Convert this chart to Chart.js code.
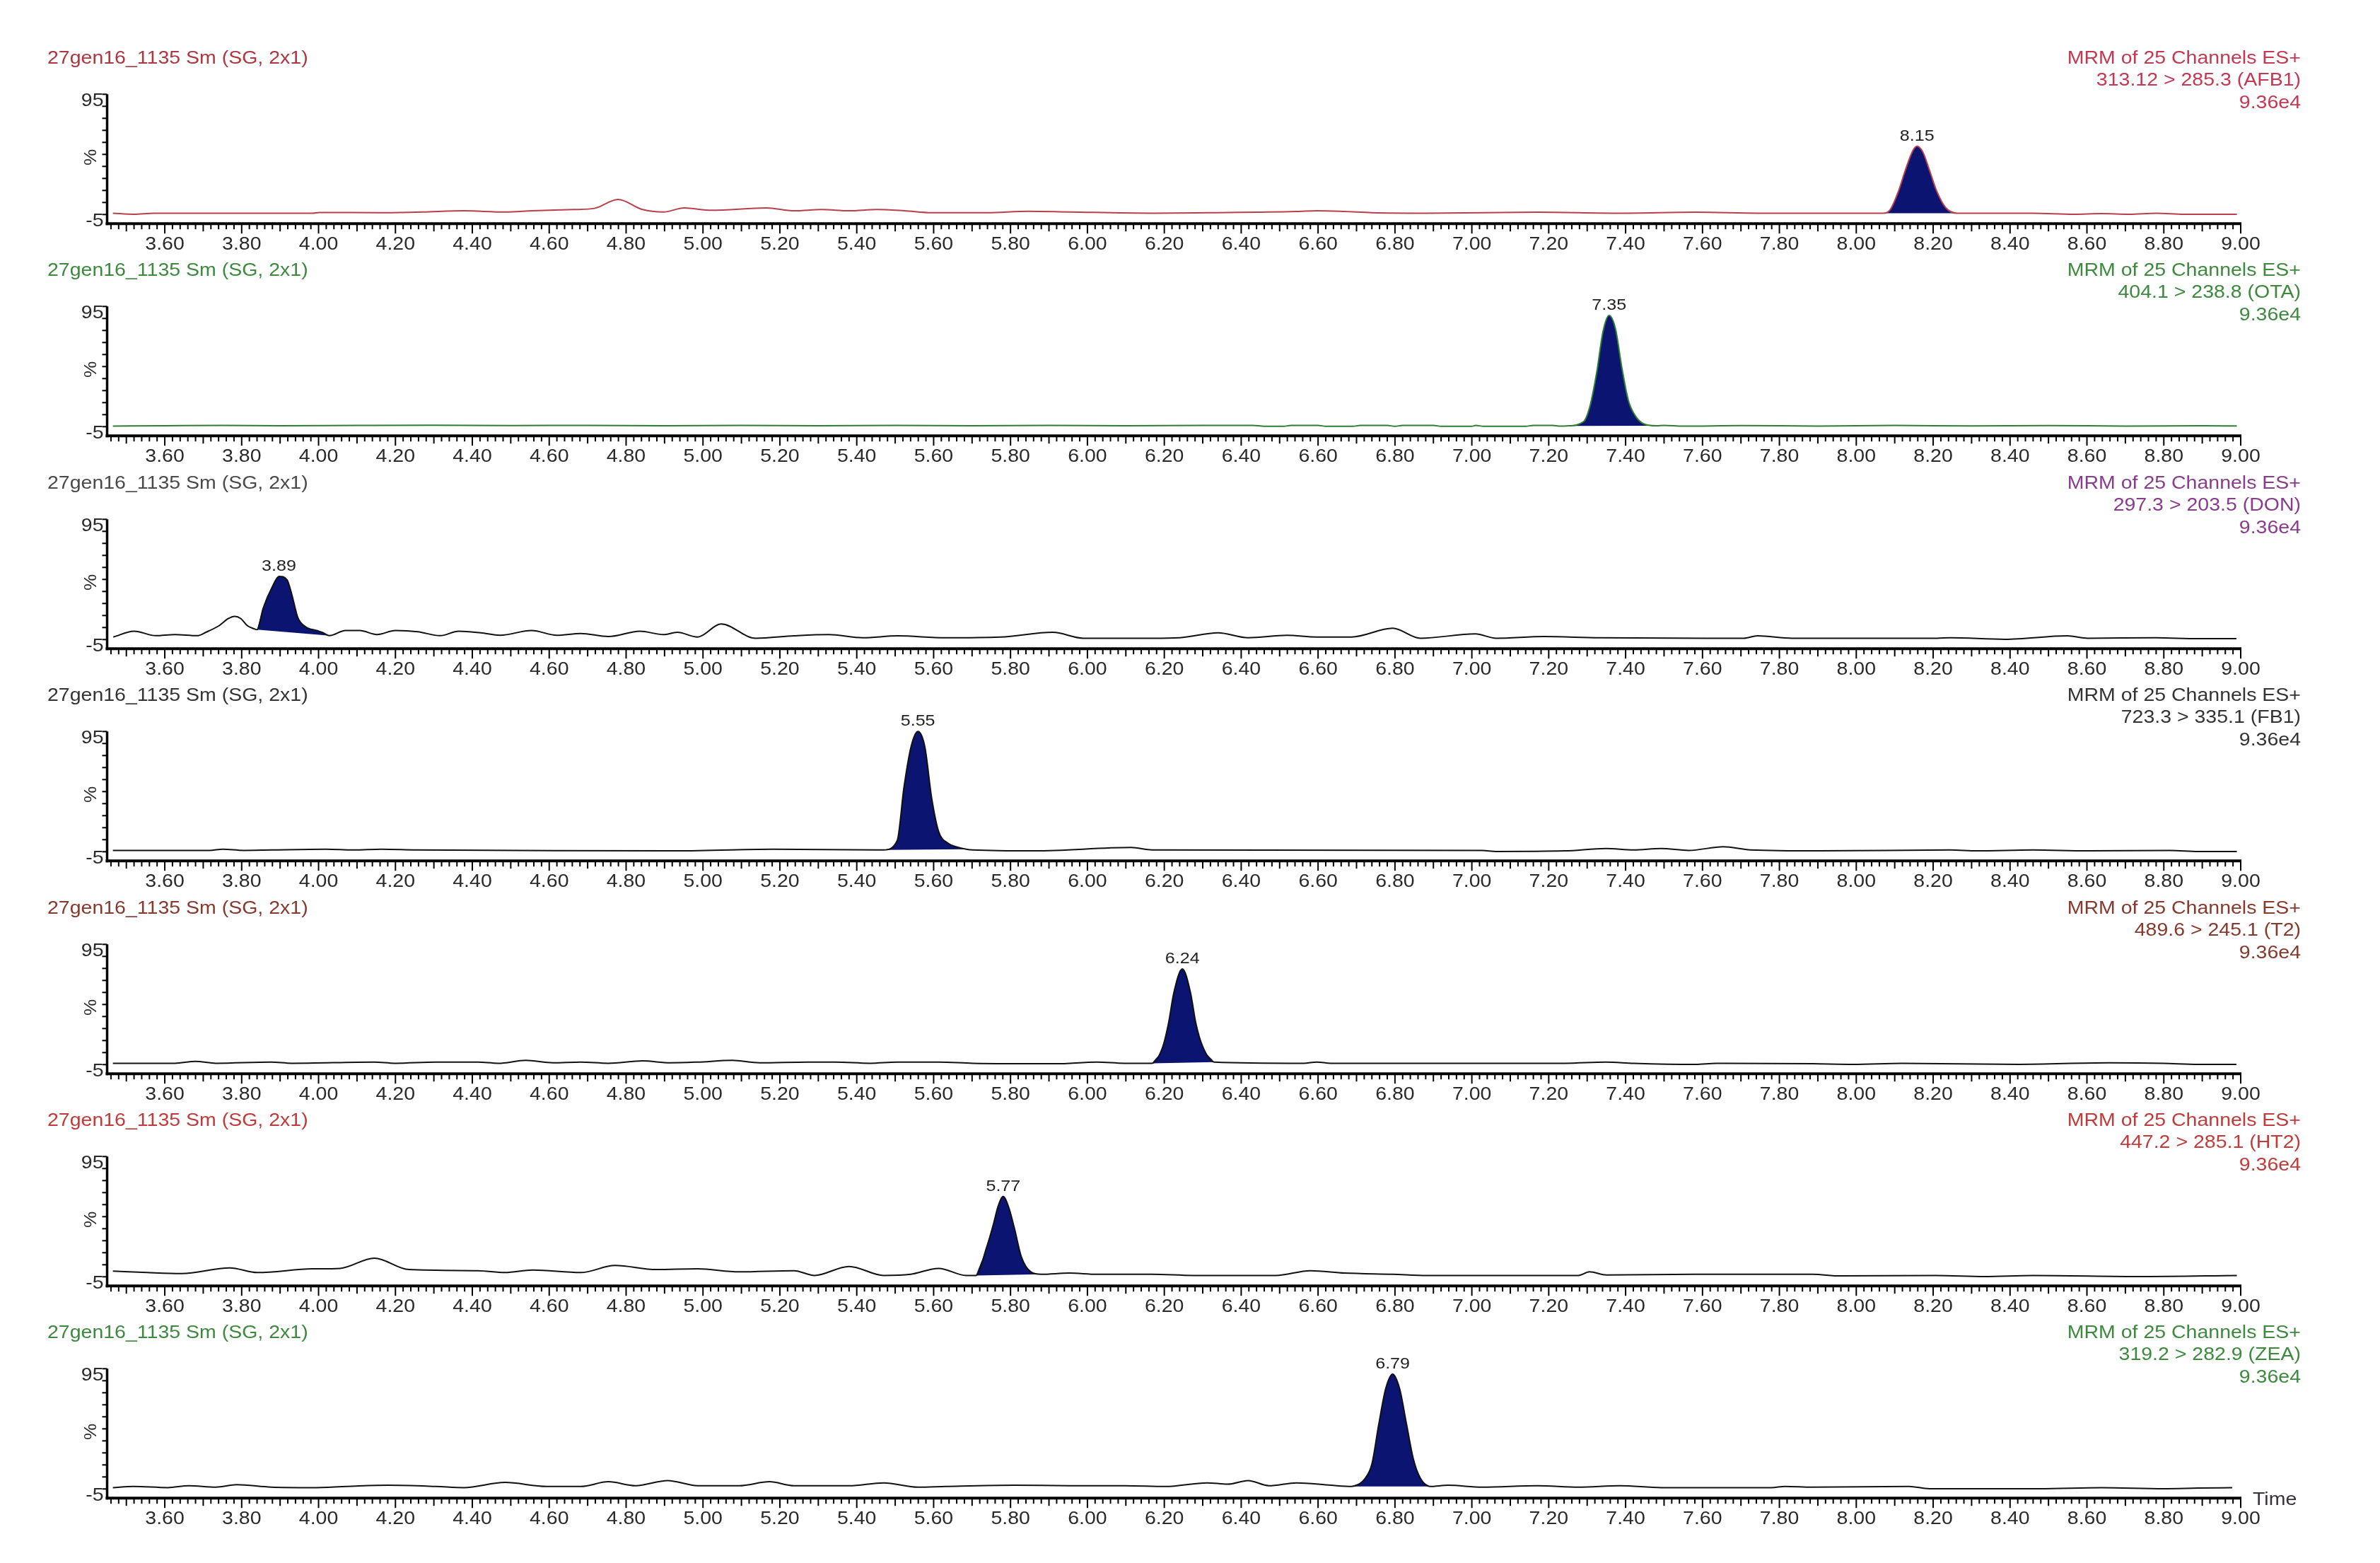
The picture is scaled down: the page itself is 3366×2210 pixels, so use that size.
<!DOCTYPE html>
<html>
<head>
<meta charset="utf-8">
<script src="https://cdn.jsdelivr.net/npm/chart.js@4.4.1/dist/chart.umd.min.js"></script>
<style>
  body { margin: 0; background: #fff; }
  #wrap { position: relative; width: 3366px; height: 2210px; }
  #wrap canvas { position: absolute; left: 0; }
</style>
</head>
<body>
<div id="wrap"></div>
<script>
// chromatogram traces, [time (min), intensity (%)]
const afb1 = [[3.465,-3.9],[3.519,-4.8],[3.572,-3.9],[3.75,-4.0],[3.984,-3.9],[4.002,-3.3],[4.163,-3.5],[4.27,-2.9],[4.378,-1.9],[4.485,-2.9],[4.557,-1.9],[4.664,-0.9],[4.718,0.1],[4.779,7.5],[4.843,-0.9],[4.897,-2.9],[4.951,0.5],[5.022,-1.5],[5.165,0.5],[5.237,-1.9],[5.309,-0.9],[5.38,-1.9],[5.452,-0.9],[5.524,-1.9],[5.595,-3.5],[5.738,-3.5],[5.846,-2.3],[5.953,-2.9],[6.168,-3.9],[6.311,-3.5],[6.544,-2.5],[6.597,-1.9],[6.669,-2.5],[6.74,-3.5],[6.884,-3.9],[7.17,-3.1],[7.385,-3.9],[7.582,-3.1],[7.743,-3.9],[7.95,-4.0],[8.07,-4.0],[8.088,-1.1],[8.11,14.6],[8.128,32.2],[8.147,48],[8.158,51.8],[8.173,47],[8.19,32.2],[8.209,14.6],[8.232,0.9],[8.263,-4.0],[8.459,-3.9],[8.566,-4.8],[8.638,-4.3],[8.71,-4.8],[8.781,-3.9],[8.853,-4.8],[8.99,-4.8]];
const ota = [[3.465,-4.5],[3.60,-4.2],[3.75,-3.9],[3.90,-4.3],[4.10,-4.0],[4.30,-3.8],[4.50,-4.1],[4.70,-3.9],[4.90,-4.2],[5.10,-4.0],[5.30,-4.3],[5.50,-4.0],[5.70,-4.3],[5.90,-4.0],[6.10,-4.2],[6.30,-3.9],[6.43,-3.9],[6.46,-4.7],[6.51,-4.7],[6.53,-3.9],[6.60,-3.9],[6.62,-4.7],[6.69,-4.7],[6.71,-3.9],[6.78,-3.9],[6.80,-4.7],[6.82,-3.9],[6.90,-3.9],[6.92,-4.7],[7.00,-4.7],[7.01,-3.9],[7.03,-4.7],[7.14,-4.7],[7.16,-3.9],[7.21,-3.9],[7.23,-4.6],[7.246,-4.4],[7.291,-0.7],[7.308,13],[7.325,40.5],[7.341,73.8],[7.357,87.5],[7.374,75.8],[7.39,44.4],[7.407,17],[7.427,3.2],[7.447,-2.6],[7.48,-4.2],[7.50,-3.9],[7.55,-4.6],[7.70,-4.1],[7.90,-4.5],[8.10,-4.0],[8.30,-4.4],[8.50,-4.1],[8.70,-4.5],[8.90,-4.2],[8.99,-4.4]];
const don = [[3.466,-2.9],[3.52,2.0],[3.577,-1.8],[3.626,-0.8],[3.684,-1.8],[3.708,1.2],[3.741,6.5],[3.765,12.4],[3.782,14.3],[3.798,12.4],[3.815,6.5],[3.832,4.0],[3.84,3.2],[3.856,21.2],[3.881,39.8],[3.897,47.6],[3.918,44.7],[3.93,33],[3.946,13.4],[3.967,5.5],[3.995,2.5],[4.012,0.6],[4.028,-1.8],[4.07,2.5],[4.107,2.5],[4.152,-0.8],[4.20,2.5],[4.258,1.5],[4.316,-1.8],[4.365,2.0],[4.422,0.6],[4.472,-1.4],[4.554,2.5],[4.62,-1.4],[4.682,0.1],[4.754,-2.5],[4.836,2.0],[4.897,-0.9],[4.933,1.0],[4.986,-2.9],[5.047,7.9],[5.137,-3.9],[5.237,-1.9],[5.327,-0.9],[5.416,-3.5],[5.506,-1.9],[5.63,-3.5],[5.774,-2.9],[5.91,1.0],[5.989,-3.9],[6.168,-3.9],[6.24,-3.5],[6.34,0.6],[6.418,-3.5],[6.519,-1.5],[6.597,-2.9],[6.687,-2.9],[6.794,4.4],[6.866,-3.9],[7.009,-0.3],[7.063,-3.9],[7.188,-2.5],[7.331,-3.5],[7.707,-3.9],[7.743,-1.9],[7.833,-3.9],[8.21,-3.9],[8.244,-3.5],[8.387,-4.8],[8.549,-1.9],[8.602,-3.9],[8.78,-3.5],[8.889,-4.3],[8.989,-4.3]];
const fb1 = [[3.465,-3.9],[3.716,-3.9],[3.751,-2.9],[3.805,-3.9],[3.877,-3.5],[4.02,-2.9],[4.091,-3.5],[4.163,-2.9],[4.253,-3.5],[4.521,-3.9],[4.915,-4.3],[5.183,-2.9],[5.452,-3.5],[5.47,-3.5],[5.505,4],[5.523,49],[5.541,82],[5.559,95],[5.577,82.4],[5.595,39.3],[5.613,11.8],[5.638,2],[5.66,-1],[5.685,-2.9],[5.702,-3.5],[5.864,-4.3],[6.114,-1.5],[6.168,-3.5],[7.027,-3.9],[7.063,-4.8],[7.242,-4.3],[7.349,-2.3],[7.421,-3.5],[7.492,-2.3],[7.564,-3.9],[7.654,-0.9],[7.725,-3.5],[7.904,-4.3],[8.244,-3.5],[8.316,-4.3],[8.459,-3.5],[8.602,-4.3],[8.817,-3.9],[8.889,-4.8],[8.99,-4.8]];
const t2 = [[3.465,-3.9],[3.626,-3.9],[3.68,-2.3],[3.733,-3.9],[3.877,-2.9],[3.93,-3.9],[4.145,-2.9],[4.199,-3.9],[4.306,-2.9],[4.414,-2.9],[4.467,-3.9],[4.539,-1.5],[4.61,-3.5],[4.682,-2.9],[4.754,-3.9],[4.843,-1.9],[4.915,-3.5],[4.986,-2.9],[5.076,-1.5],[5.147,-3.5],[5.273,-2.9],[5.344,-2.9],[5.434,-3.9],[5.506,-2.9],[5.613,-2.9],[5.702,-3.9],[5.917,-4.3],[6.025,-2.9],[6.096,-3.9],[6.168,-3.9],[6.196,9.9],[6.211,29.5],[6.225,55],[6.247,74.6],[6.268,55],[6.282,29.5],[6.30,9.9],[6.33,-2.9],[6.562,-3.9],[6.597,-2.9],[6.633,-3.9],[7.242,-3.9],[7.349,-2.9],[7.421,-3.9],[7.582,-4.8],[7.636,-3.9],[7.886,-4.3],[7.993,-4.8],[8.119,-3.9],[8.423,-4.8],[8.656,-3.5],[8.799,-3.9],[8.889,-4.8],[8.989,-4.8]];
const ht2 = [[3.465,-0.3],[3.554,-1.5],[3.644,-2.3],[3.769,2.4],[3.841,-1.5],[3.984,1.6],[4.056,2.0],[4.145,10.5],[4.235,1.0],[4.414,0.1],[4.485,-1.5],[4.557,0.6],[4.682,-1.5],[4.771,4.4],[4.879,1.0],[4.986,1.6],[5.094,-0.9],[5.237,0.1],[5.29,-3.9],[5.38,3.6],[5.47,-3.9],[5.54,-2.9],[5.613,2.0],[5.684,-3.9],[5.71,-3.9],[5.738,19.7],[5.756,39.3],[5.767,53],[5.781,61.8],[5.795,53],[5.81,35.4],[5.828,11.8],[5.853,-0.9],[5.88,-2.9],[5.953,-1.9],[6.025,-2.9],[6.168,-2.9],[6.275,-3.9],[6.49,-3.9],[6.58,0.1],[6.669,-1.9],[6.794,-2.9],[6.884,-3.9],[7.277,-3.9],[7.306,-0.9],[7.35,-3.5],[7.582,-2.9],[7.886,-2.9],[7.958,-4.3],[8.208,-3.9],[8.334,-4.8],[8.459,-3.9],[8.745,-4.8],[8.99,-3.9]];
const zea = [[3.465,-3.9],[3.519,-2.9],[3.608,-3.9],[3.662,-2.3],[3.733,-3.5],[3.787,-1.5],[3.877,-3.5],[3.984,-3.9],[4.074,-2.9],[4.181,-1.9],[4.306,-2.9],[4.378,-3.9],[4.485,0.4],[4.593,-2.9],[4.682,-2.9],[4.754,1.0],[4.825,-2.3],[4.908,2.0],[4.986,-2.3],[5.094,-2.3],[5.173,1.0],[5.237,-2.3],[5.38,-2.3],[5.47,0.1],[5.559,-3.5],[5.631,-2.9],[5.81,-1.9],[5.953,-2.3],[6.096,-2.3],[6.204,-2.9],[6.311,0.1],[6.365,-1.0],[6.418,2.0],[6.472,-2.3],[6.544,0.1],[6.633,-1.9],[6.687,-2.9],[6.723,4],[6.74,15.7],[6.758,49],[6.776,78.5],[6.794,90.5],[6.812,78.5],[6.83,49],[6.848,19.7],[6.866,4],[6.891,-2.9],[6.938,-1.9],[7.027,-3.5],[7.17,-2.3],[7.278,-3.5],[7.385,-2.3],[7.493,-3.9],[7.779,-3.9],[7.815,-2.9],[7.886,-3.5],[8.137,-2.9],[8.19,-4.8],[8.477,-4.8],[8.638,-3.9],[8.799,-4.8],[8.889,-4.3],[8.978,-3.9]];

const traces = [afb1, ota, don, fb1, t2, ht2, zea];
const peakRanges = [[8.07, 8.263], [7.246, 7.48], [3.84, 4.028], [5.47, 5.685], [6.168, 6.33], [5.71, 5.88], [6.687, 6.891]];
const peakLabels = ['8.15', '7.35', '3.89', '5.55', '6.24', '5.77', '6.79'];
const transitions = ['313.12 > 285.3 (AFB1)', '404.1 > 238.8 (OTA)', '297.3 > 203.5 (DON)', '723.3 > 335.1 (FB1)', '489.6 > 245.1 (T2)', '447.2 > 285.1 (HT2)', '319.2 > 282.9 (ZEA)'];
const sampleName = '27gen16_1135 Sm (SG, 2x1)';
const scanName = 'MRM of 25 Channels ES+';
const intensity = '9.36e4';
const timeTicks = ['3.60','3.80','4.00','4.20','4.40','4.60','4.80','5.00','5.20','5.40','5.60','5.80','6.00','6.20','6.40','6.60','6.80','7.00','7.20','7.40','7.60','7.80','8.00','8.20','8.40','8.60','8.80','9.00'];
const pctTicks = ['-5', '95'];

// colours per panel
const titleColors = ['#b0363f', '#3d8a3f', '#4a4a4a', '#333333', '#86392c', '#c23a3a', '#3d8a3f'];
const infoColors = ['#c53852', '#3d8a3f', '#8a3c8c', '#333333', '#86392c', '#c23a3a', '#3d8a3f'];
const lineColors = ['#b8404a', '#2f7d32', '#111', '#111', '#111', '#111', '#111'];
const peakFill = '#0b1470';

function txt(ctx, s, x, y, size, color, align) {
  ctx.save();
  ctx.font = size + 'px "Liberation Sans", Arial, sans-serif';
  ctx.fillStyle = color;
  ctx.textAlign = align;
  ctx.textBaseline = 'alphabetic';
  ctx.translate(x, y);
  ctx.scale(1.14, 1);
  ctx.fillText(s, 0, 0);
  ctx.restore();
}

const panelPlugin = {
  id: 'panel',
  afterDraw(chart, args, o) {
    const ctx = chart.ctx, xs = chart.scales.x, ys = chart.scales.y, a = chart.chartArea;
    ctx.save();
    ctx.strokeStyle = '#000';
    // axes
    ctx.lineWidth = 4;
    ctx.beginPath();
    ctx.moveTo(a.left - 2, a.bottom + 1);
    ctx.lineTo(a.right + 1, a.bottom + 1);
    ctx.stroke();
    ctx.lineWidth = 3.5;
    ctx.beginPath();
    ctx.moveTo(a.left, ys.getPixelForValue(95));
    ctx.lineTo(a.left, a.bottom + 3);
    ctx.stroke();
    // time ticks every 0.02
    ctx.lineWidth = 2;
    for (let k = Math.ceil(xs.min * 50); k <= Math.round(xs.max * 50); k++) {
      const px = xs.getPixelForValue(k / 50);
      const len = k % 10 === 0 ? 13 : (k % 5 === 0 ? 10 : 7);
      ctx.beginPath();
      ctx.moveTo(px, a.bottom + 2);
      ctx.lineTo(px, a.bottom + 2 + len);
      ctx.stroke();
    }
    timeTicks.forEach(s => txt(ctx, s, xs.getPixelForValue(+s), a.bottom + 38, 25, '#2a2a2a', 'center'));
    // intensity ticks every 10 %
    for (let v = -5; v <= 95; v += 10) {
      const py = ys.getPixelForValue(v);
      ctx.beginPath();
      ctx.moveTo(a.left - 7, py);
      ctx.lineTo(a.left, py);
      ctx.stroke();
    }
    pctTicks.forEach(s => txt(ctx, s, a.left - 5, ys.getPixelForValue(+s) + 17, 25, '#2a2a2a', 'right'));
    ctx.save();
    ctx.translate(a.left - 24, ys.getPixelForValue(45) + 4);
    ctx.rotate(-Math.PI / 2);
    txt(ctx, '%', 0, 8, 23, '#2a2a2a', 'center');
    ctx.restore();
    // headers
    txt(ctx, sampleName, 67, 45, 25, o.titleColor, 'left');
    txt(ctx, scanName, 3254, 44.5, 25, o.infoColor, 'right');
    txt(ctx, o.transition, 3254, 75.7, 25, o.infoColor, 'right');
    txt(ctx, intensity, 3254, 108.3, 25, o.infoColor, 'right');
    // peak label at apex
    const pk = chart.data.datasets[1].data;
    let top = pk[0];
    pk.forEach(p => { if (p.y > top.y) top = p; });
    txt(ctx, o.peakLabel, xs.getPixelForValue(top.x), ys.getPixelForValue(top.y) - 8, 22, '#222', 'center');
    if (o.showTime) txt(ctx, 'Time', 3186, 280.6, 25, '#3a3040', 'left');
    ctx.restore();
  }
};

const wrap = document.getElementById('wrap');
traces.forEach((pts, i) => {
  const cv = document.createElement('canvas');
  cv.width = 3366;
  cv.height = 315;
  cv.style.top = (45 + i * 300.4) + 'px';
  wrap.appendChild(cv);

  const line = pts.map(p => ({ x: p[0], y: p[1] }));
  const [p0, p1] = peakRanges[i];
  const peak = line.filter(p => p.x >= p0 && p.x <= p1);
  const base = [peak[0], peak[peak.length - 1]];

  new Chart(cv, {
    type: 'line',
    data: {
      datasets: [
        { data: line, borderColor: lineColors[i], borderWidth: 2, pointRadius: 0, fill: false,
          cubicInterpolationMode: 'monotone', clip: false },
        { data: peak, borderWidth: 0, borderColor: 'rgba(0,0,0,0)', pointRadius: 0, backgroundColor: peakFill,
          fill: '+1', cubicInterpolationMode: 'monotone', clip: false },
        { data: base, borderWidth: 0, borderColor: 'rgba(0,0,0,0)', pointRadius: 0, fill: false, clip: false }
      ]
    },
    options: {
      responsive: false,
      animation: false,
      devicePixelRatio: 1,
      events: [],
      layout: { padding: { left: 151.5, right: 197, top: 88.3, bottom: 44.8 } },
      scales: {
        x: { type: 'linear', display: false, min: 3.45, max: 9.0 },
        y: { type: 'linear', display: false, min: -12, max: 95 }
      },
      plugins: {
        legend: { display: false },
        tooltip: { enabled: false },
        panel: {
          titleColor: titleColors[i],
          infoColor: infoColors[i],
          transition: transitions[i],
          peakLabel: peakLabels[i],
          showTime: i === traces.length - 1
        }
      }
    },
    plugins: [panelPlugin]
  });
});
</script>
</body>
</html>
